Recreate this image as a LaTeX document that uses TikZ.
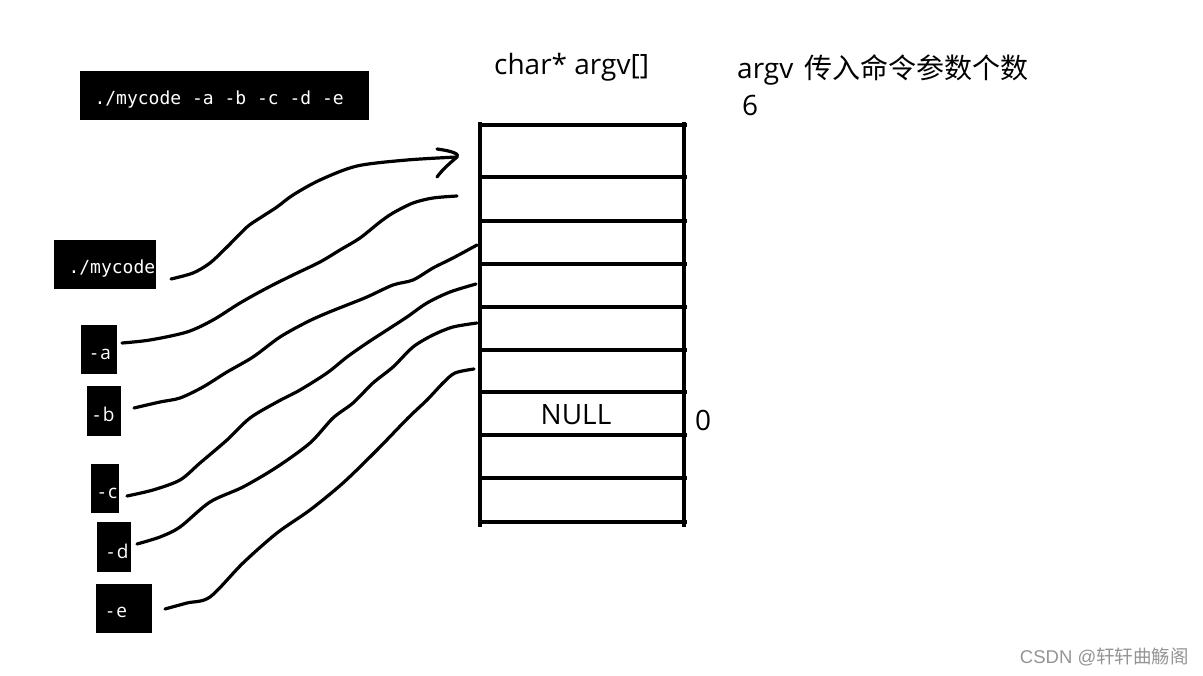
\documentclass[tikz,border=0pt]{standalone}
\usepackage{fontspec}
\setmainfont{Open Sans}
\setmonofont{DejaVu Sans Mono}
\newfontfamily\cjk{Noto Sans CJK SC}
\begin{document}
\begin{tikzpicture}[x=1pt,y=-1pt,
  termtext/.style={text=white,font=\fontsize{18}{21}\selectfont\ttfamily},
  opttext/.style={text=white,font=\fontsize{19}{22}\selectfont},
  wire/.style={line width=3.2pt,line cap=round,line join=round},
  gridline/.style={line width=4pt},
  lbl/.style={inner sep=0pt,font=\fontsize{28}{32}\selectfont}]
\useasboundingbox (0,0) rectangle (1203,676);
% black terminal boxes
\fill (80,71) rectangle (369,120);
\node[termtext,anchor=west] (cmd) at (91,100) {./mycode -a -b -c -d -e};
\fill (54,240) rectangle (156,289);
\node[termtext,anchor=west] (prog) at (65,269) {./mycode};
\fill (81,325) rectangle (117,374);
\node[opttext,anchor=center] (pa) at (101,354) {-\,a};
\fill (87,386) rectangle (121,436);
\node[opttext,anchor=center] (pb) at (104,414) {-\,b};
\fill (91,464) rectangle (119,513);
\node[opttext,anchor=center] (pc) at (108,493) {-\,c};
\fill (97,522) rectangle (131,572);
\node[opttext,anchor=center] (pd) at (118,551) {-\,d};
\fill (96,584) rectangle (152,633);
\node[opttext,anchor=center] (pe) at (117,612) {-\,e};
% argv array
\draw[gridline] (480,122) -- (480,527);
\draw[gridline] (684,122) -- (684,527);
\foreach \yy in {125,177,221,264,307,350,392,435,478,522}
  \draw[gridline] (478,\yy) -- (687,\yy);
\node[lbl] (null) at (576,415) {NULL};
\node[lbl,anchor=west] (zero) at (695,420) {0};
\node[lbl,anchor=west] (title) at (494,67) {char* argv[]};
\node[lbl,anchor=west] (argc) at (737,70) {argv\hspace{11pt}{\cjk\fontsize{28}{32}\selectfont 传入命令参数个数}};
\node[lbl,anchor=west] (six) at (742,106) {6};
\node[anchor=east,inner sep=0pt,text=black!42,font=\fontsize{18.5}{21}\selectfont] (wm) at (1189,657) {\fontspec{Liberation Sans}CSDN @{\cjk 轩轩曲觞阁}};
% endpoints
\coordinate (s1) at (171,279); \coordinate (e1) at (457,157);
\coordinate (s2) at (122,343); \coordinate (e2) at (457,196);
\coordinate (s3) at (134,408); \coordinate (e3) at (477,245);
\coordinate (s4) at (127,496); \coordinate (e4) at (476,284);
\coordinate (s5) at (137,544); \coordinate (e5) at (477,323);
\coordinate (s6) at (165,609); \coordinate (e6) at (474,369);
% connectors
\draw[wire] plot[smooth,tension=0.5] coordinates {(s1) (193,273) (210,263) (227,247) (247,227) (260,218) (277,207) (293,195) (320,180) (357,166) (407,160) (e1)};
\draw[wire] (437,149) .. controls (452,151) and (460,154) .. (e1) .. controls (450,163) and (442,170) .. (437,177);
\draw[wire] plot[smooth,tension=0.5] coordinates {(s2) (150,340) (187,332) (213,320) (240,303) (267,288) (293,275) (320,262) (340,250) (360,238) (380,222) (393,213) (413,203) (433,198) (e2)};
\draw[wire] plot[smooth,tension=0.5] coordinates {(s3) (160,402) (180,398) (203,387) (227,372) (253,357) (280,337) (307,322) (327,313) (347,305) (367,297) (393,285) (413,280) (433,268) (453,258) (e3)};
\draw[wire] plot[smooth,tension=0.5] coordinates {(s4) (153,490) (180,480) (200,463) (227,440) (250,418) (277,402) (300,390) (327,373) (347,357) (367,343) (387,330) (407,317) (427,303) (450,292) (e4)};
\draw[wire] plot[smooth,tension=0.5] coordinates {(s5) (160,537) (180,527) (210,502) (243,487) (277,467) (310,443) (333,418) (353,403) (373,383) (393,367) (413,347) (433,335) (453,327) (e5)};
\draw[wire] plot[smooth,tension=0.5] coordinates {(s6) (187,603) (210,597) (243,563) (277,533) (310,510) (343,483) (377,450) (408,418) (427,400) (443,383) (455,373) (e6)};
\end{tikzpicture}
\end{document}
